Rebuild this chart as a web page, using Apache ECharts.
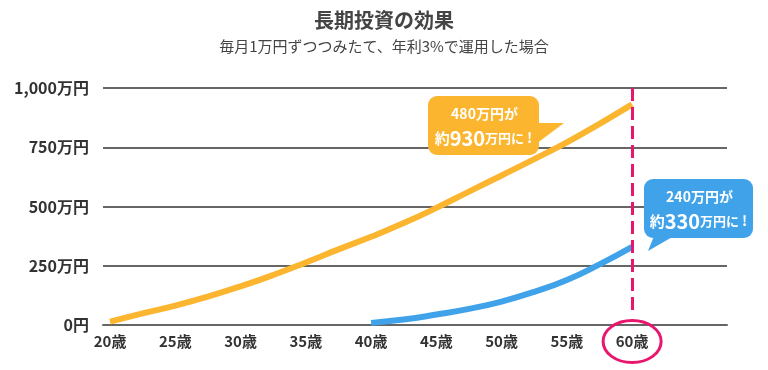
<!DOCTYPE html>
<html>
<head>
<meta charset="utf-8">
<script src="https://cdn.jsdelivr.net/npm/echarts@6/dist/echarts.min.js"></script>
<style>
html,body{margin:0;padding:0;background:#fff;}
#c{width:768px;height:370px;}
</style>
</head>
<body>
<div id="c"></div>
<script>
var titleText = '長期投資の効果';
var subText = '毎月1万円ずつつみたて、年利3%で運用した場合';
var ageTicks = [20, 25, 30, 35, 40, 45, 50, 55, 60];
var orangeAges = [20, 22.5, 25, 27.5, 30, 32.5, 35, 37.5, 40, 42.5, 45, 47.5, 50, 52.5, 55, 57.5, 60];
var orangeValues = [14, 49, 82, 120, 163, 211, 264, 319, 372, 430, 494, 563, 631, 700, 771, 849, 931];
var blueAges = [40, 42.5, 45, 47.5, 50, 52.5, 55, 57.5, 60];
var blueValues = [9, 23, 44, 68, 99, 140, 190, 256, 330];
var yTicks = [0, 250, 500, 750, 1000];
var markAge = 60;

var FONT = "'Noto Sans CJK JP','Noto Sans',sans-serif";
var ORANGE = '#FBB52F';
var BLUE = '#40A3EA';
var PINK = '#E8176D';

function pairs(xs, ys) { return xs.map(function (x, i) { return [x, ys[i]]; }); }

var chart = echarts.init(document.getElementById('c'), null, {renderer: 'canvas'});
chart.setOption({
  animation: false,
  backgroundColor: '#fff',
  title: [
    {text: titleText, left: 'center', top: 5,
     textStyle: {fontFamily: FONT, fontSize: 20, fontWeight: 'bold', color: '#444'}},
    {text: subText, left: 'center', top: 34,
     textStyle: {fontFamily: FONT, fontSize: 15, fontWeight: 'normal', color: '#444'}}
  ],
  grid: {left: 103, right: 41, top: 88, bottom: 45},
  xAxis: {
    type: 'value', min: 19.46, max: 67.27,
    axisLine: {show: true, lineStyle: {color: '#666', width: 2}},
    axisTick: {show: false},
    splitLine: {show: false},
    axisLabel: {
      customValues: ageTicks,
      margin: 9,
      fontFamily: FONT, fontSize: 15, fontWeight: 'bold', color: '#333',
      formatter: function (v) { return v + '歳'; }
    }
  },
  yAxis: {
    type: 'value', min: yTicks[0], max: yTicks[yTicks.length - 1], interval: 250,
    axisLine: {show: false},
    axisTick: {show: false},
    splitLine: {show: true, lineStyle: {color: '#666', width: 2}},
    axisLabel: {
      margin: 14,
      fontFamily: FONT, fontSize: 16, fontWeight: 'bold', color: '#333',
      formatter: function (v) { return v === 0 ? '0円' : v.toLocaleString('en-US') + '万円'; }
    }
  },
  series: [
    {
      type: 'line', data: pairs(orangeAges, orangeValues), smooth: 0.5,
      showSymbol: false, symbol: 'none',
      lineStyle: {color: ORANGE, width: 6}, z: 3,
      markLine: {
        silent: true, symbol: 'none', label: {show: false},
        lineStyle: {color: PINK, width: 3, type: [13, 6]},
        data: [[{coord: [markAge, 1000]}, {coord: [markAge, 45]}]]
      }
    },
    {
      type: 'line', data: pairs(blueAges, blueValues), smooth: 0.5,
      showSymbol: false, symbol: 'none',
      lineStyle: {color: BLUE, width: 6}, z: 3
    }
  ]
});

var p60 = chart.convertToPixel({gridIndex: 0}, [markAge, 0]);
var cx = p60[0];

function callout(x, y, w, h, color, tail, l1, num) {
  return {
    type: 'group', z: 10,
    children: [
      {type: 'polygon', shape: {points: tail}, style: {fill: color}},
      {type: 'rect', shape: {x: x, y: y, width: w, height: h, r: 9}, style: {fill: color}},
      {type: 'text', x: x + w / 2 + 1, y: y + 18,
       style: {text: l1, fill: '#fff', font: 'bold 14px ' + FONT, align: 'center', verticalAlign: 'middle'}},
      {type: 'text', x: x + w / 2, y: y + 42,
       style: {
         text: '{a|約}{b|' + num + '}{c|万円に}{d|!}', align: 'center', verticalAlign: 'middle',
         rich: {
           a: {fill: '#fff', font: 'bold 15px ' + FONT},
           b: {fill: '#fff', font: 'bold 20px ' + FONT},
           c: {fill: '#fff', font: 'bold 13px ' + FONT},
           d: {fill: '#fff', font: 'bold 14px ' + FONT, padding: [0, 0, 0, 3]}
         }
       }}
    ]
  };
}

chart.setOption({
  graphic: [
    callout(428, 96, 111, 59, ORANGE, [[536, 123], [564, 123], [536, 144]], '480万円が', '930'),
    callout(644, 179, 109, 59, BLUE, [[654, 236], [648, 251], [674, 236]], '240万円が', '330'),
    {type: 'ellipse', z: 10, shape: {cx: cx, cy: p60[1] + 16.5, rx: 29, ry: 21},
     style: {fill: 'none', stroke: PINK, lineWidth: 3}}
  ]
});
</script>
</body>
</html>
